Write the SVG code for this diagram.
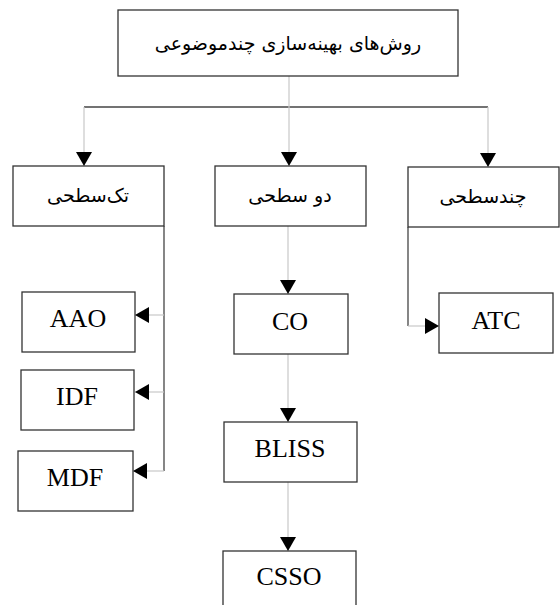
<svg xmlns="http://www.w3.org/2000/svg" width="560" height="605" viewBox="0 0 560 605">
<style>
.box{fill:#fff;stroke:#333;stroke-width:1.3}
.fa{font-family:"DejaVu Sans",sans-serif;font-size:19px;fill:#000;text-anchor:middle}
.la{font-family:"Liberation Serif",serif;font-size:26px;fill:#000;text-anchor:middle}
.lt{fill:none;stroke:#c8c8c8;stroke-width:1.2}
.dk{fill:none;stroke:#444;stroke-width:1.3}
</style>
<defs>
<marker id="arr" viewBox="0 0 14 16" refX="14" refY="8" markerWidth="14" markerHeight="16" markerUnits="userSpaceOnUse" orient="auto">
<path d="M0,0 L14,8 L0,16 z" fill="#000"/>
</marker>
</defs>
<rect width="560" height="605" fill="#fff"/>
<g id="connectors">
<path class="dk" d="M84,107 H488"/>
<path class="lt" d="M289,76 V107"/>
<path class="lt" d="M289,107 V166" marker-end="url(#arr)"/>
<path class="lt" d="M84,107 V166" marker-end="url(#arr)"/>
<path class="lt" d="M488,107 V167" marker-end="url(#arr)"/>
<path class="dk" d="M164,226 V471"/>
<path class="lt" d="M164,315 H135" marker-end="url(#arr)"/>
<path class="lt" d="M164,392 H135" marker-end="url(#arr)"/>
<path class="lt" d="M164,471 H133" marker-end="url(#arr)"/>
<path class="lt" d="M288,226 V294" marker-end="url(#arr)"/>
<path class="lt" d="M288,354 V422" marker-end="url(#arr)"/>
<path class="lt" d="M288,482 V551" marker-end="url(#arr)"/>
<path class="dk" d="M408,227 V326"/>
<path class="lt" d="M408,326 H439" marker-end="url(#arr)"/>
</g>
<g id="root"><rect class="box" x="118" y="10" width="340" height="66"/><text class="fa" x="288" y="50">روش‌های بهینه‌سازی چندموضوعی</text></g>
<g id="single"><rect class="box" x="13" y="166" width="151" height="60"/><text class="fa" x="88" y="202">تک‌سطحی</text></g>
<g id="bilevel"><rect class="box" x="215" y="166" width="151" height="60"/><text class="fa" x="290" y="202">دو سطحی</text></g>
<g id="multi"><rect class="box" x="408" y="167" width="151" height="60"/><text class="fa" x="483" y="203">چندسطحی</text></g>
<g id="aao"><rect class="box" x="22" y="292" width="113" height="60"/><text class="la" x="78" y="327">AAO</text></g>
<g id="idf"><rect class="box" x="21" y="370" width="113" height="60"/><text class="la" x="77" y="405">IDF</text></g>
<g id="mdf"><rect class="box" x="18" y="451" width="115" height="60"/><text class="la" x="75" y="486">MDF</text></g>
<g id="co"><rect class="box" x="234" y="294" width="114" height="60"/><text class="la" x="290" y="330">CO</text></g>
<g id="atc"><rect class="box" x="439" y="293" width="114" height="60"/><text class="la" x="496" y="329">ATC</text></g>
<g id="bliss"><rect class="box" x="224" y="422" width="133" height="60"/><text class="la" x="290" y="457">BLISS</text></g>
<g id="csso"><rect class="box" x="223" y="551" width="133" height="60"/><text class="la" x="289" y="585">CSSO</text></g>
</svg>
